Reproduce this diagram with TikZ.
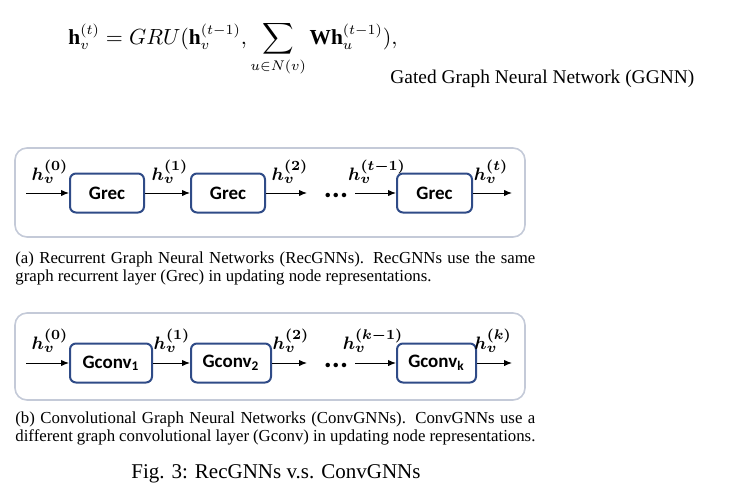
\documentclass[tikz,border=0pt]{standalone}
\usepackage{amsmath,bm}
\usepackage{fontspec}
\setmainfont{Liberation Serif}
\newfontfamily\boxfont{Carlito}
\usetikzlibrary{arrows.meta}
\definecolor{boxblue}{RGB}{47,75,135}
\definecolor{panelgray}{RGB}{196,202,216}
\newcommand{\hv}[1]{$\bm{h_v^{(#1)}}$}
\begin{document}
\begin{tikzpicture}[x=0.5pt,y=-0.5pt,
  layer/.style={draw=boxblue,line width=1pt,rounded corners=3pt,minimum height=19.5pt,inner sep=0pt,
    font=\boxfont\bfseries\fontsize{9.5}{10}\selectfont},
  state/.style={inner sep=0pt,font=\fontsize{9.3}{10}\selectfont},
  flow/.style={-{Latex[length=4pt,width=3.2pt]},line width=0.5pt},
  panel/.style={draw=panelgray,line width=0.8pt,rounded corners=6pt},
  dots/.style={inner sep=0pt,anchor=base,font=\boxfont\bfseries\fontsize{15}{15}\selectfont},
  subcap/.style={anchor=north west,inner sep=0pt,text width=260pt,align=justify,
    font=\fontsize{8.4}{9.2}\selectfont}]
\useasboundingbox (0,0) rectangle (753,499);
\node[anchor=base west,inner sep=0pt,font=\fontsize{10.7}{12}\selectfont] (ggnn) at (68,44)
  {$\displaystyle \mathbf{h}_v^{(t)} = GRU(\mathbf{h}_v^{(t-1)}, \sum_{u\in N(v)} \mathbf{W}\mathbf{h}_u^{(t-1)}),$};
\node[anchor=base west,inner sep=0pt,font=\fontsize{9.7}{12}\selectfont] (ggnnname) at (390,83)
  {Gated Graph Neural Network (GGNN)};
\draw[panel] (15,148) rectangle (525,237);
\node[layer,minimum width=37pt] (a1) at (107,193) {Grec};
\node[layer,minimum width=37pt] (a2) at (228,193) {Grec};
\node[layer,minimum width=37.5pt] (a3) at (434.5,193) {Grec};
\coordinate (ain) at (26,193);
\coordinate (a2out) at (307,193);
\coordinate (a3in) at (355,193);
\coordinate (aout) at (512,193);
\node[dots] (adots) at (336,197) {...};
\draw[flow] (ain) -- (a1);
\draw[flow] (a1) -- (a2);
\draw[flow] (a2) -- (a2out);
\draw[flow] (a3in) -- (a3);
\draw[flow] (a3) -- (aout);
\node[state] (ah0) at (50,172) {\hv{0}};
\node[state] (ah1) at (170,172) {\hv{1}};
\node[state] (ah2) at (290,172) {\hv{2}};
\node[state] (ah3) at (377,172) {\hv{t-1}};
\node[state] (ah4) at (491,172) {\hv{t}};
\node[subcap] (acap) at (15,251) {(a) Recurrent Graph Neural Networks (RecGNNs). RecGNNs use the same\linebreak graph recurrent layer (Grec) in updating node representations.};
\draw[panel] (15,313) rectangle (525,400);
\node[layer,minimum width=41pt] (b1) at (111,363) {Gconv\textsubscript{1}};
\node[layer,minimum width=40pt] (b2) at (231,363) {Gconv\textsubscript{2}};
\node[layer,minimum width=39.5pt] (b3) at (436.5,363) {Gconv\textsubscript{k}};
\coordinate (bin) at (26,363);
\coordinate (b2out) at (307,363);
\coordinate (b3in) at (355,363);
\coordinate (bout) at (512,363);
\node[dots] (bdots) at (336,367) {...};
\draw[flow] (bin) -- (b1);
\draw[flow] (b1) -- (b2);
\draw[flow] (b2) -- (b2out);
\draw[flow] (b3in) -- (b3);
\draw[flow] (b3) -- (bout);
\node[state] (bh0) at (50,341) {\hv{0}};
\node[state] (bh1) at (172,341) {\hv{1}};
\node[state] (bh2) at (291,341) {\hv{2}};
\node[state] (bh3) at (373,341) {\hv{k-1}};
\node[state] (bh4) at (493,341) {\hv{k}};
\node[subcap] (bcap) at (15,411) {(b) Convolutional Graph Neural Networks (ConvGNNs). ConvGNNs use a\linebreak different graph convolutional layer (Gconv) in updating node representations.};
\node[anchor=base west,inner sep=0pt,font=\fontsize{10.5}{12}\selectfont] (figcap) at (131,478)
  {Fig. 3: RecGNNs v.s. ConvGNNs};
\end{tikzpicture}
\end{document}
